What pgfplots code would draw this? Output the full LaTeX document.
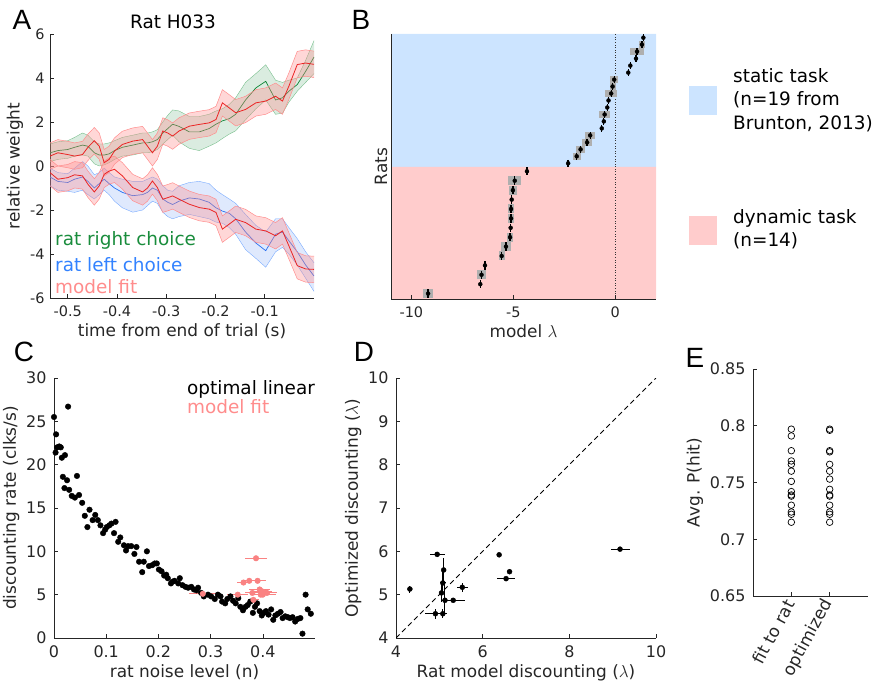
\documentclass[border=0pt]{standalone}
\usepackage{fontspec}
\setmainfont{DejaVu Sans}
\newfontfamily\letterfont{Liberation Sans}
\usepackage{pgfplots}
\usepackage{pgfplotstable}
\pgfplotsset{compat=1.18}

\definecolor{tickc}{RGB}{38,38,38}
\definecolor{grT}{RGB}{25,140,60}
\definecolor{grL}{RGB}{10,130,50}
\definecolor{grE}{RGB}{120,190,140}
\definecolor{blT}{RGB}{50,130,255}
\definecolor{blL}{RGB}{40,110,240}
\definecolor{blE}{RGB}{120,170,255}
\definecolor{pk}{RGB}{255,140,140}
\definecolor{rd}{RGB}{235,35,35}
\definecolor{bgblue}{RGB}{204,228,255}
\definecolor{bgpink}{RGB}{255,204,204}
\definecolor{errgray}{RGB}{175,175,175}
\definecolor{pkdot}{RGB}{250,130,130}

\pgfplotsset{
  mystyle/.style={
    scale only axis,
    axis lines=left,
    axis line style={-, tickc, line width=0.6pt},
    tick align=inside,
    tick style={tickc, line width=0.6pt},
    major tick length=4bp,
    ticklabel style={font=\fontsize{14.5}{16}\selectfont, text=tickc},
    xticklabel style={yshift=-2bp},
    yticklabel style={xshift=-2bp},
    label style={font=\fontsize{17}{20}\selectfont, text=tickc},
    /pgf/number format/assume math mode=true,
  },
  bigticks/.style={ticklabel style={font=\fontsize{16}{18}\selectfont, text=tickc}},
}

\pgfplotstableread{
t m mlo mhi nm nmlo nmhi g glo ghi b blo bhi
-0.536 0.45 -0.15 1.05 -0.30 -0.90 0.30 0.60 0.20 1.00 -0.50 -0.90 -0.10
-0.520 0.60 0.00 1.20 -0.60 -1.20 0.00 0.70 0.30 1.10 -0.70 -1.10 -0.30
-0.500 0.52 -0.08 1.12 -0.53 -1.13 0.07 0.75 0.35 1.15 -0.75 -1.15 -0.35
-0.486 0.45 -0.15 1.05 -0.40 -1.00 0.20 0.85 0.45 1.30 -0.60 -1.20 -0.10
-0.470 0.52 -0.08 1.12 -0.45 -1.05 0.15 0.95 0.50 1.50 -0.50 -1.10 0.20
-0.459 0.85 0.25 1.45 -0.83 -1.43 -0.23 0.90 0.45 1.40 -0.70 -1.30 0.00
-0.446 1.15 0.55 1.75 -1.18 -1.78 -0.58 0.60 0.10 1.10 -1.00 -1.50 -0.40
-0.436 0.90 0.30 1.50 -0.90 -1.50 -0.30 0.50 0.00 1.00 -0.80 -1.30 -0.30
-0.426 0.15 -0.45 0.75 -0.38 -0.98 0.22 0.50 0.05 1.00 -0.60 -1.10 -0.10
-0.416 0.30 -0.30 0.90 -0.23 -0.83 0.37 0.55 0.15 1.05 -0.80 -1.30 -0.30
-0.405 0.68 0.08 1.28 -0.15 -0.75 0.45 0.70 0.30 1.15 -1.00 -1.60 -0.50
-0.389 0.98 0.38 1.58 -0.45 -1.05 0.15 0.85 0.45 1.30 -1.20 -1.90 -0.60
-0.368 1.13 0.53 1.73 -0.98 -1.58 -0.38 0.95 0.50 1.40 -1.35 -2.10 -0.70
-0.348 1.20 0.60 1.80 -1.18 -1.78 -0.58 1.05 0.60 1.50 -1.30 -2.00 -0.70
-0.338 0.90 0.30 1.50 -1.00 -1.60 -0.40 1.05 0.60 1.50 -1.20 -1.80 -0.60
-0.328 0.60 0.00 1.20 -0.68 -1.28 -0.08 1.10 0.65 1.55 -1.00 -1.60 -0.50
-0.318 0.90 0.30 1.50 -0.98 -1.58 -0.38 1.20 0.75 1.65 -1.10 -1.70 -0.60
-0.307 1.59 0.99 2.19 -1.51 -2.11 -0.91 1.50 1.00 2.00 -1.50 -2.10 -0.90
-0.297 1.50 0.90 2.10 -1.44 -2.04 -0.84 1.70 1.20 2.30 -1.65 -2.30 -1.10
-0.287 1.36 0.76 1.96 -1.36 -1.96 -0.76 1.90 1.40 2.55 -1.75 -2.40 -1.15
-0.274 1.59 0.99 2.19 -1.51 -2.11 -0.91 1.80 1.10 2.50 -1.60 -2.30 -0.90
-0.253 1.81 1.21 2.41 -1.74 -2.34 -1.14 1.55 0.80 2.25 -1.45 -2.20 -0.75
-0.233 1.89 1.29 2.49 -1.89 -2.49 -1.29 1.55 0.70 2.25 -1.50 -2.30 -0.70
-0.213 1.96 1.36 2.56 -1.96 -2.56 -1.36 1.70 0.90 2.35 -1.65 -2.40 -0.80
-0.199 2.11 1.51 2.71 -2.11 -2.71 -1.51 1.90 1.05 2.50 -1.90 -2.55 -1.10
-0.186 2.87 2.27 3.47 -2.87 -3.47 -2.27 2.05 1.25 2.60 -2.05 -2.60 -1.30
-0.172 2.64 2.04 3.24 -2.64 -3.24 -2.04 2.15 1.45 2.80 -2.15 -2.80 -1.50
-0.159 2.42 1.82 3.02 -2.42 -3.02 -1.82 2.35 1.60 3.10 -2.40 -3.10 -1.70
-0.139 2.57 1.97 3.17 -2.57 -3.17 -1.97 3.00 2.10 3.80 -3.00 -3.80 -2.20
-0.118 2.87 2.27 3.47 -2.87 -3.47 -2.27 3.55 2.60 4.20 -3.50 -4.20 -2.70
-0.098 2.95 2.35 3.55 -2.95 -3.55 -2.35 3.85 3.00 4.60 -3.85 -4.60 -3.00
-0.078 3.17 2.57 3.77 -3.17 -3.77 -2.57 3.00 2.35 3.90 -3.10 -3.90 -2.40
-0.064 2.95 2.35 3.55 -2.95 -3.55 -2.35 3.10 2.40 3.80 -3.00 -3.70 -2.40
-0.051 3.63 3.03 4.23 -3.63 -4.23 -3.03 3.40 2.90 3.90 -3.40 -4.00 -2.80
-0.034 4.61 4.01 5.21 -4.53 -5.13 -3.93 3.70 3.40 4.00 -3.90 -4.50 -3.30
-0.017 4.68 4.08 5.28 -4.68 -5.28 -4.08 4.30 3.80 4.80 -4.50 -5.10 -3.90
0.000 4.62 4.02 5.22 -4.70 -5.30 -4.10 4.95 4.20 5.70 -5.00 -5.70 -4.40
}\tA

\pgfplotstableread{
x y e
1.38 261.3 0
1.31 254.4 0.16
1.07 247.4 0.33
1.02 240.4 0
0.74 233.4 0
0.64 226.4 0
-0.05 219.4 0.21
-0.13 212.5 0.15
-0.20 205.5 0.30
-0.33 198.5 0
-0.39 191.5 0
-0.52 184.5 0.27
-0.56 177.6 0
-0.66 170.6 0
-1.23 163.6 0.23
-1.38 156.6 0.24
-1.70 149.6 0.22
-1.89 142.7 0.19
-2.31 135.7 0
}\tBs

\pgfplotstableread{
x y e
-4.33 127.7 0
-4.93 118.3 0.31
-5.02 108.8 0.20
-5.08 99.4 0
-5.11 90.0 0.16
-5.11 80.6 0.16
-5.13 71.2 0
-5.16 61.8 0.16
-5.36 52.4 0.23
-5.57 43.0 0.15
-6.39 33.6 0
-6.56 24.2 0.22
-6.62 14.8 0
-9.18 5.4 0.26
}\tBd

\pgfplotstableread{
n v
0.000 25.5
0.003 21.4
0.004 23.5
0.006 22.0
0.010 22.1
0.013 22.0
0.015 20.8
0.021 21.1
0.027 26.7
0.017 18.6
0.020 17.3
0.025 18.2
0.029 17.1
0.044 18.7
0.034 16.4
0.040 16.2
0.048 16.5
0.054 15.6
0.059 14.1
0.064 12.8
0.068 14.8
0.074 13.6
0.079 14.2
0.084 13.6
0.089 13.0
0.094 12.1
0.098 12.5
0.101 12.8
0.106 13.0
0.110 13.2
0.115 12.1
0.118 13.4
0.123 11.1
0.127 11.6
0.134 10.7
0.138 10.1
0.142 10.6
0.148 10.6
0.154 9.7
0.158 10.5
0.163 8.8
0.169 7.6
0.172 8.8
0.178 10.0
0.182 8.3
0.188 8.4
0.193 8.6
0.197 8.6
0.201 7.9
0.206 7.7
0.211 7.2
0.215 7.3
0.218 6.9
0.224 6.3
0.227 6.5
0.231 6.6
0.238 6.3
0.241 6.9
0.246 6.1
0.252 5.9
0.257 5.8
0.263 5.9
0.268 5.6
0.273 5.5
0.276 5.8
0.282 5.2
0.287 4.8
0.295 5.0
0.301 4.8
0.308 4.5
0.314 5.0
0.319 4.8
0.322 4.2
0.328 4.0
0.332 4.5
0.338 4.8
0.343 4.3
0.348 4.0
0.353 4.6
0.357 3.6
0.362 3.2
0.367 3.6
0.371 3.8
0.376 4.2
0.381 2.9
0.385 3.6
0.389 4.0
0.394 3.1
0.398 2.6
0.402 2.9
0.406 3.1
0.411 2.7
0.416 3.3
0.420 2.1
0.424 2.6
0.429 2.8
0.434 3.0
0.438 2.3
0.443 2.5
0.448 2.4
0.452 2.3
0.457 2.4
0.462 1.9
0.467 2.2
0.472 2.3
0.476 0.5
0.482 5.0
0.486 3.3
0.492 2.8
}\tCo

\pgfplotstableread{
n v e
0.387 9.2 0.021
0.363 6.4 0.012
0.374 6.6 0.012
0.390 6.6 0.016
0.285 5.1 0.027
0.352 5.0 0.020
0.380 5.2 0.015
0.382 4.4 0.010
0.394 5.6 0.020
0.398 5.4 0.020
0.400 5.0 0.025
0.405 5.3 0.020
0.396 5.0 0.015
0.408 5.2 0.020
}\tCm

\pgfplotstableread{
x y ex ey
4.95 5.93 0.17 0.05
5.10 5.57 0.03 0.27
5.08 5.27 0.07 0.25
5.05 5.04 0.03 0.20
5.13 4.87 0.03 0.35
5.32 4.87 0.27 0.05
5.53 5.17 0.12 0.10
4.91 4.56 0.23 0.12
5.08 4.56 0.10 0.10
4.32 5.13 0.03 0.08
6.38 5.92 0.05 0.05
6.62 5.53 0.05 0.06
6.54 5.37 0.20 0.03
9.17 6.05 0.22 0.03
}\tD

\pgfplotstableread{
c p
1 0.797
1 0.791
1 0.778
1 0.769
1 0.766
1 0.760
1 0.751
1 0.742
1 0.739
1 0.738
1 0.730
1 0.724
1 0.722
1 0.715
2 0.797
2 0.796
2 0.778
2 0.777
2 0.766
2 0.760
2 0.753
2 0.744
2 0.739
2 0.738
2 0.730
2 0.724
2 0.722
2 0.715
}\tE

\begin{document}
\begin{tikzpicture}
\path[use as bounding box] (0,0) rectangle (877bp,688bp);

% ---------------- Panel A ----------------
\begin{axis}[mystyle, at={(50bp,390bp)}, anchor=south west,
  width=264bp, height=264bp,
  xmin=-0.536, xmax=0, ymin=-6, ymax=6,
  xtick={-0.5,-0.4,-0.3,-0.2,-0.1}, ytick={-6,-4,-2,0,2,4,6},
  xticklabel style={yshift=-2bp},
  xlabel={time from end of trial (s)}, ylabel={relative weight}]
  % green band (upper edge forward, lower edge back)
  \addplot[fill=grL, fill opacity=0.15, draw=none] coordinates {
  (-0.536,1.00)(-0.520,1.10)(-0.500,1.15)(-0.486,1.30)(-0.470,1.50)(-0.459,1.40)(-0.446,1.10)(-0.436,1.00)(-0.426,1.00)(-0.416,1.05)(-0.405,1.15)(-0.389,1.30)(-0.368,1.40)(-0.348,1.50)(-0.338,1.50)(-0.328,1.55)(-0.318,1.65)(-0.307,2.00)(-0.297,2.30)(-0.287,2.55)(-0.274,2.50)(-0.253,2.25)(-0.233,2.25)(-0.213,2.35)(-0.199,2.50)(-0.186,2.60)(-0.172,2.80)(-0.159,3.10)(-0.139,3.80)(-0.118,4.20)(-0.098,4.60)(-0.078,3.90)(-0.064,3.80)(-0.051,3.90)(-0.034,4.00)(-0.017,4.80)(0,5.70)
  (0,4.20)(-0.017,3.80)(-0.034,3.40)(-0.051,2.90)(-0.064,2.40)(-0.078,2.35)(-0.098,3.00)(-0.118,2.60)(-0.139,2.10)(-0.159,1.60)(-0.172,1.45)(-0.186,1.25)(-0.199,1.05)(-0.213,0.90)(-0.233,0.70)(-0.253,0.80)(-0.274,1.10)(-0.287,1.40)(-0.297,1.20)(-0.307,1.00)(-0.318,0.75)(-0.328,0.65)(-0.338,0.60)(-0.348,0.60)(-0.368,0.50)(-0.389,0.45)(-0.405,0.30)(-0.416,0.15)(-0.426,0.05)(-0.436,0.00)(-0.446,0.10)(-0.459,0.45)(-0.470,0.50)(-0.486,0.45)(-0.500,0.35)(-0.520,0.30)(-0.536,0.20)};
  % blue band
  \addplot[fill=blL, fill opacity=0.15, draw=none] coordinates {
  (-0.536,-0.10)(-0.520,-0.30)(-0.500,-0.35)(-0.486,-0.10)(-0.470,0.20)(-0.459,0.00)(-0.446,-0.40)(-0.436,-0.30)(-0.426,-0.10)(-0.416,-0.30)(-0.405,-0.50)(-0.389,-0.60)(-0.368,-0.70)(-0.348,-0.70)(-0.338,-0.60)(-0.328,-0.50)(-0.318,-0.60)(-0.307,-0.90)(-0.297,-1.10)(-0.287,-1.15)(-0.274,-0.90)(-0.253,-0.75)(-0.233,-0.70)(-0.213,-0.80)(-0.199,-1.10)(-0.186,-1.30)(-0.172,-1.50)(-0.159,-1.70)(-0.139,-2.20)(-0.118,-2.70)(-0.098,-3.00)(-0.078,-2.40)(-0.064,-2.40)(-0.051,-2.80)(-0.034,-3.30)(-0.017,-3.90)(0,-4.40)
  (0,-5.70)(-0.017,-5.10)(-0.034,-4.50)(-0.051,-4.00)(-0.064,-3.70)(-0.078,-3.90)(-0.098,-4.60)(-0.118,-4.20)(-0.139,-3.80)(-0.159,-3.10)(-0.172,-2.80)(-0.186,-2.60)(-0.199,-2.55)(-0.213,-2.40)(-0.233,-2.30)(-0.253,-2.20)(-0.274,-2.30)(-0.287,-2.40)(-0.297,-2.30)(-0.307,-2.10)(-0.318,-1.70)(-0.328,-1.60)(-0.338,-1.80)(-0.348,-2.00)(-0.368,-2.10)(-0.389,-1.90)(-0.405,-1.60)(-0.416,-1.30)(-0.426,-1.10)(-0.436,-1.30)(-0.446,-1.50)(-0.459,-1.30)(-0.470,-1.10)(-0.486,-1.20)(-0.500,-1.15)(-0.520,-1.10)(-0.536,-0.90)};
  \addplot[grE, line width=0.4pt] table[x=t,y=ghi]{\tA};
  \addplot[grE, line width=0.4pt] table[x=t,y=glo]{\tA};
  \addplot[blE, line width=0.4pt] table[x=t,y=bhi]{\tA};
  \addplot[blE, line width=0.4pt] table[x=t,y=blo]{\tA};
  \addplot[grL, line width=0.7pt] table[x=t,y=g]{\tA};
  \addplot[blL, line width=0.7pt] table[x=t,y=b]{\tA};
  % model bands
  \addplot[fill=pk, fill opacity=0.35, draw=none] coordinates {
  (-0.536,1.05)(-0.520,1.20)(-0.500,1.12)(-0.486,1.05)(-0.470,1.12)(-0.459,1.45)(-0.446,1.75)(-0.436,1.50)(-0.426,0.75)(-0.416,0.90)(-0.405,1.28)(-0.389,1.58)(-0.368,1.73)(-0.348,1.80)(-0.338,1.50)(-0.328,1.20)(-0.318,1.50)(-0.307,2.19)(-0.297,2.10)(-0.287,1.96)(-0.274,2.19)(-0.253,2.41)(-0.233,2.49)(-0.213,2.56)(-0.199,2.71)(-0.186,3.47)(-0.172,3.24)(-0.159,3.02)(-0.139,3.17)(-0.118,3.47)(-0.098,3.55)(-0.078,3.77)(-0.064,3.55)(-0.051,4.23)(-0.034,5.21)(-0.017,5.28)(0,5.22)
  (0,4.02)(-0.017,4.08)(-0.034,4.01)(-0.051,3.03)(-0.064,2.35)(-0.078,2.57)(-0.098,2.35)(-0.118,2.27)(-0.139,1.97)(-0.159,1.82)(-0.172,2.04)(-0.186,2.27)(-0.199,1.51)(-0.213,1.36)(-0.233,1.29)(-0.253,1.21)(-0.274,0.99)(-0.287,0.76)(-0.297,0.90)(-0.307,0.99)(-0.318,0.30)(-0.328,0.00)(-0.338,0.30)(-0.348,0.60)(-0.368,0.53)(-0.389,0.38)(-0.405,0.08)(-0.416,-0.30)(-0.426,-0.45)(-0.436,0.30)(-0.446,0.55)(-0.459,0.25)(-0.470,-0.08)(-0.486,-0.15)(-0.500,-0.08)(-0.520,0.00)(-0.536,-0.15)};
  \addplot[fill=pk, fill opacity=0.35, draw=none] coordinates {
  (-0.536,0.30)(-0.520,0.00)(-0.500,0.07)(-0.486,0.20)(-0.470,0.15)(-0.459,-0.23)(-0.446,-0.58)(-0.436,-0.30)(-0.426,0.22)(-0.416,0.37)(-0.405,0.45)(-0.389,0.15)(-0.368,-0.38)(-0.348,-0.58)(-0.338,-0.40)(-0.328,-0.08)(-0.318,-0.38)(-0.307,-0.91)(-0.297,-0.84)(-0.287,-0.76)(-0.274,-0.91)(-0.253,-1.14)(-0.233,-1.29)(-0.213,-1.36)(-0.199,-1.51)(-0.186,-2.27)(-0.172,-2.04)(-0.159,-1.82)(-0.139,-1.97)(-0.118,-2.27)(-0.098,-2.35)(-0.078,-2.57)(-0.064,-2.35)(-0.051,-3.03)(-0.034,-3.93)(-0.017,-4.08)(0,-4.10)
  (0,-5.30)(-0.017,-5.28)(-0.034,-5.13)(-0.051,-4.23)(-0.064,-3.55)(-0.078,-3.77)(-0.098,-3.55)(-0.118,-3.47)(-0.139,-3.17)(-0.159,-3.02)(-0.172,-3.24)(-0.186,-3.47)(-0.199,-2.71)(-0.213,-2.56)(-0.233,-2.49)(-0.253,-2.34)(-0.274,-2.11)(-0.287,-1.96)(-0.297,-2.04)(-0.307,-2.11)(-0.318,-1.58)(-0.328,-1.28)(-0.338,-1.60)(-0.348,-1.78)(-0.368,-1.58)(-0.389,-1.05)(-0.405,-0.75)(-0.416,-0.83)(-0.426,-0.98)(-0.436,-1.50)(-0.446,-1.78)(-0.459,-1.43)(-0.470,-1.05)(-0.486,-1.00)(-0.500,-1.13)(-0.520,-1.20)(-0.536,-0.90)};
  \addplot[pk, line width=0.5pt] table[x=t,y=mhi]{\tA};
  \addplot[pk, line width=0.5pt] table[x=t,y=mlo]{\tA};
  \addplot[pk, line width=0.5pt] table[x=t,y=nmhi]{\tA};
  \addplot[pk, line width=0.5pt] table[x=t,y=nmlo]{\tA};
  \addplot[rd, line width=0.8pt] table[x=t,y=m]{\tA};
  \addplot[rd, line width=0.8pt] table[x=t,y=nm]{\tA};
\end{axis}
\node[anchor=west, text=grT, font=\fontsize{18.5}{20}\selectfont, inner sep=0pt] at (55bp,448bp) {rat right choice};
\node[anchor=west, text=blT, font=\fontsize{18.5}{20}\selectfont, inner sep=0pt] at (55bp,423bp) {rat left choice};
\node[anchor=west, text=pk, font=\fontsize{18.5}{20}\selectfont, inner sep=0pt] at (55bp,401bp) {model fit};

% ---------------- Panel B ----------------
\begin{axis}[mystyle, at={(391bp,389bp)}, anchor=south west,
  width=265bp, height=265bp,
  xmin=-11, xmax=2, ymin=0, ymax=265,
  xtick={-10,-5,0}, ytick=\empty, axis on top,
  xticklabel style={yshift=-2bp},
  xlabel={model $\lambda$}, ylabel={Rats}]
  \addplot[fill=bgblue, draw=none] coordinates {(-11,132) (2,132) (2,265) (-11,265) (-11,132)};
  \addplot[fill=bgpink, draw=none] coordinates {(-11,0) (2,0) (2,132) (-11,132) (-11,0)};
  \addplot[black!80, dotted, line width=0.6pt] coordinates {(0,0) (0,265)};
  \addplot[only marks, mark=none, error bars/.cd, x dir=both, x explicit, error mark=none,
    error bar style={line width=6.5bp, color=errgray}] table[x=x,y=y,x error=e]{\tBs};
  \addplot[only marks, mark=none, error bars/.cd, x dir=both, x explicit, error mark=none,
    error bar style={line width=9bp, color=errgray}] table[x=x,y=y,x error=e]{\tBd};
  \addplot[only marks, mark=|, mark size=3.4bp, mark options={line width=1.3bp, line cap=butt, black}] table[x=x,y=y]{\tBs};
  \addplot[only marks, mark=|, mark size=4.2bp, mark options={line width=1.3bp, line cap=butt, black}] table[x=x,y=y]{\tBd};
\end{axis}

% ---------------- Panel C ----------------
\begin{axis}[mystyle, bigticks, at={(54bp,50bp)}, anchor=south west,
  width=261bp, height=260bp,
  xmin=0, xmax=0.5, ymin=0, ymax=30,
  xtick={0,0.1,0.2,0.3,0.4}, ytick={0,5,10,15,20,25,30},
  xticklabel style={yshift=-2bp}, yticklabel style={xshift=-2bp},
  xlabel={rat noise level (n)}, ylabel={discounting rate (clks/s)}]
  \addplot[only marks, mark=*, mark size=2.8bp, black] table[x=n,y=v]{\tCo};
  \addplot[only marks, mark=none, error bars/.cd, x dir=both, x explicit, error mark=none,
    error bar style={line width=1pt, color=pkdot}] table[x=n,y=v,x error=e]{\tCm};
  \addplot[only marks, mark=*, mark size=2.8bp, pkdot, mark options={draw=pkdot, fill=pkdot}] table[x=n,y=v]{\tCm};
\end{axis}
\node[anchor=west, text=black, font=\fontsize{18.5}{20}\selectfont, inner sep=0pt] at (187bp,299bp) {optimal linear};
\node[anchor=west, text=pk, font=\fontsize{18.5}{20}\selectfont, inner sep=0pt] at (187bp,281bp) {model fit};

% ---------------- Panel D ----------------
\begin{axis}[mystyle, bigticks, at={(396bp,50bp)}, anchor=south west,
  width=260bp, height=260bp,
  xmin=4, xmax=10, ymin=4, ymax=10,
  xtick={4,6,8,10}, ytick={4,5,6,7,8,9,10},
  xticklabel style={yshift=-2bp}, yticklabel style={xshift=-2bp},
  xlabel={Rat model discounting ($\lambda$)}, ylabel={Optimized discounting ($\lambda$)}]
  \addplot[black, dash pattern=on 5bp off 3.5bp, line width=0.9pt] coordinates {(4,4) (10,10)};
  \addplot[only marks, mark=*, mark size=2.5bp, black, error bars/.cd, x dir=both, y dir=both,
    x explicit, y explicit, error mark=none, error bar style={line width=1pt, black}]
    table[x=x,y=y,x error=ex,y error=ey]{\tD};
\end{axis}

% ---------------- Panel E ----------------
\begin{axis}[mystyle, bigticks, at={(753bp,92bp)}, anchor=south west,
  width=115bp, height=227bp,
  xmin=0, xmax=3, ymin=0.65, ymax=0.85,
  xtick={1,2}, xticklabels={fit to rat, optimized},
  xticklabel style={rotate=62, anchor=east, font=\fontsize{17}{18}\selectfont},
  yticklabel style={xshift=-2bp},
  ytick={0.65,0.7,0.75,0.8,0.85}, yticklabels={0.65,0.7,0.75,0.8,0.85},
  ylabel={Avg. P(hit)}]
  \addplot[only marks, mark=o, mark size=3.3bp, black, mark options={line width=0.7pt}] table[x=c,y=p]{\tE};
\end{axis}

% ---------------- annotations ----------------
\node[font=\fontsize{18.5}{20}\selectfont, text=black] at (173bp,666bp) {Rat H033};
\node[font=\letterfont\fontsize{28}{28}\selectfont] at (22bp,668bp) {A};
\node[font=\letterfont\fontsize{28}{28}\selectfont] at (361bp,668bp) {B};
\node[font=\letterfont\fontsize{28}{28}\selectfont] at (24bp,336bp) {C};
\node[font=\letterfont\fontsize{28}{28}\selectfont] at (364bp,336bp) {D};
\node[font=\letterfont\fontsize{28}{28}\selectfont] at (695bp,330bp) {E};

% legend of panel B
\fill[bgblue] (689bp,573bp) rectangle (717bp,602bp);
\fill[bgpink] (689bp,443bp) rectangle (717bp,472bp);
\node[anchor=west, align=left, inner sep=0pt, font=\fontsize{18.5}{23.5}\selectfont] at (733bp,588bp) {static task\\(n=19 from\\Brunton, 2013)};
\node[anchor=west, align=left, inner sep=0pt, font=\fontsize{18.5}{23.5}\selectfont] at (733bp,459bp) {dynamic task\\(n=14)};
\end{tikzpicture}
\end{document}
